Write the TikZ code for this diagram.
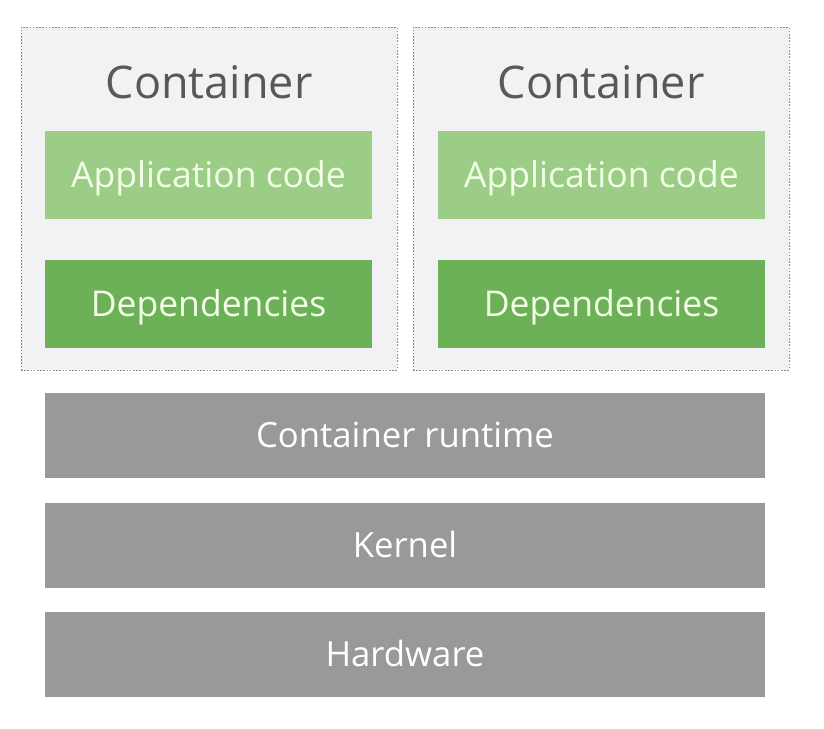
\documentclass[tikz,border=0pt]{standalone}
\usepackage{fontspec}
\setmainfont{Open Sans}
\definecolor{boxbg}{HTML}{F2F2F4}
\definecolor{boxline}{HTML}{8A8A8C}
\definecolor{appgreen}{HTML}{9BCD86}
\definecolor{depgreen}{HTML}{6CB158}
\definecolor{greentext}{HTML}{F2FFE6}
\definecolor{graybar}{HTML}{99989A}
\definecolor{titlegray}{HTML}{58585A}
\tikzset{
  contbox/.style={draw=boxline, fill=boxbg, line width=0.9pt, dash pattern=on 1.6pt off 1.6pt, minimum width=376pt, minimum height=343pt, inner sep=0pt},
  greenbox/.style={minimum width=327pt, minimum height=88pt, inner sep=0pt, text=greentext, font=\fontsize{35.5}{36}\selectfont, text height=25.3pt, text depth=0pt},
  appbox/.style={greenbox, fill=appgreen},
  depbox/.style={greenbox, fill=depgreen},
  layerbox/.style={fill=graybar, minimum width=720pt, minimum height=85pt, inner sep=0pt, text=white, font=\fontsize{34.7}{35}\selectfont, text height=24.8pt, text depth=0pt},
  titletext/.style={text=titlegray, font=\fontsize{45}{45}\selectfont, inner sep=0pt, anchor=base}
}
\begin{document}
\begin{tikzpicture}[x=1pt,y=-1pt]
\useasboundingbox[fill=white] (0,0) rectangle (824,728);
% left container
\node[contbox] (c1) at (209,198.5) {};
\node[titletext] (t1) at (209,98.5) {Container};
\node[appbox] (a1) at (208.5,175) {Application code};
\node[depbox] (d1) at (208.5,304) {Dependencies};
% right container
\node[contbox] (c2) at (601,198.5) {};
\node[titletext] (t2) at (601,98.5) {Container};
\node[appbox] (a2) at (601.5,175) {Application code};
\node[depbox] (d2) at (601.5,304) {Dependencies};
% layers
\node[layerbox] (rt) at (405,435) {Container runtime};
\node[layerbox] (kn) at (405,545) {Kernel};
\node[layerbox] (hw) at (405,654.5) {Hardware};
\end{tikzpicture}
\end{document}
